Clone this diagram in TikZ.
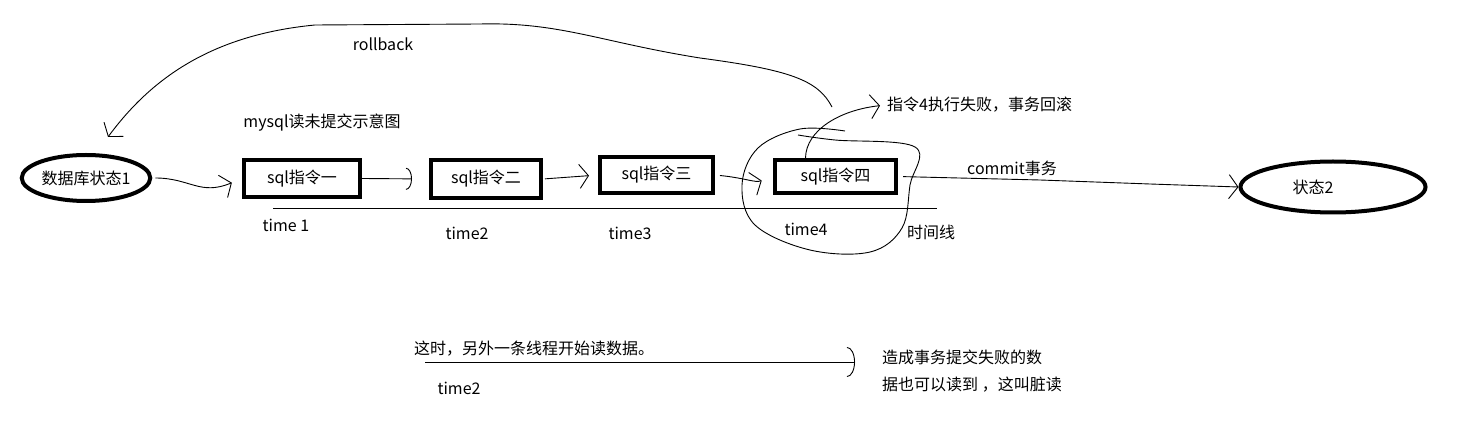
\documentclass[tikz,border=0pt]{standalone}
\usepackage{fontspec}
\newfontfamily\cjk{Noto Sans CJK SC}
\usetikzlibrary{shapes.geometric,arrows.meta}
\begin{document}
\begin{tikzpicture}[x=1pt,y=-1pt,
  txt/.style={font=\cjk\fontsize{16}{19}\selectfont, inner sep=1pt},
  state/.style={ellipse, draw, line width=4pt, inner sep=0pt, txt},
  stepbox/.style={rectangle, draw, line width=4pt, inner sep=0pt, txt},
  thin/.style={line width=0.9pt},
  vtip/.style={thin, -{Straight Barb[length=9pt,width=24pt,line width=0.9pt]}},
  ctip/.style={thin, -{Arc Barb[length=6pt,width=22pt,line width=0.9pt]}},
  bigc/.style={thin, -{Arc Barb[length=8pt,width=30pt,line width=0.9pt]}}
]
\useasboundingbox (0,0) rectangle (1458,435);

% states and steps
\node[state, minimum width=120pt, minimum height=46pt] (e1) at (86,178) {数据库状态1};
\node[stepbox, minimum width=116pt, minimum height=37pt] (b1) at (302,178.5) {sql指令一};
\node[stepbox, minimum width=110pt, minimum height=38pt] (b2) at (486,179) {sql指令二};
\node[stepbox, minimum width=113pt, minimum height=36pt] (b3) at (656.5,175) {sql指令三};
\node[stepbox, minimum width=121pt, minimum height=33pt] (b4) at (835.5,176.5) {sql指令四};
\node[state, minimum width=185pt, minimum height=51pt, text depth=0pt] (e2) at (1333,187) {\hspace*{-40pt}状态2};

% labels
\node[txt] (rb) at (383,44) {rollback};
\node[txt] (title) at (322,123) {mysql读未提交示意图};
\node[txt] (t1) at (286,225) {time 1};
\node[txt] (t2) at (467,233) {time2};
\node[txt] (t3) at (630,233) {time3};
\node[txt] (t4) at (806,229) {time4};
\node[txt] (tl) at (931,232) {时间线};
\node[txt] (cm) at (1012,168) {commit事务};
\node[txt, anchor=west] (fail) at (886,105) {指令4执行失败，事务回滚};
\node[txt, anchor=west] (other) at (413,349) {这时，另外一条线程开始读数据。};
\node[txt] (t2b) at (459,388) {time2};
\node[txt, anchor=north west, align=left, font=\cjk\fontsize{16}{27}\selectfont] (dirty) at (881,349) {造成事务提交失败的数\\据也可以读到 ，这叫脏读};

% timeline
\coordinate (tla) at (273,208);
\coordinate (tlb) at (937,208);
\draw[thin] (tla) -- (tlb);

% step connectors
\draw[vtip, shorten <=3pt, shorten >=11pt] (e1.east) .. controls (190,178) and (200,196) .. (b1.west);
\draw[ctip, shorten >=17pt] (b1.east) -- (b2.west);
\draw[vtip, shorten <=2pt, shorten >=9pt] (b2.east) -- (b3.west);
\draw[vtip, shorten <=5pt, shorten >=12pt] (b3.east) .. controls (745,178) and (755,183) .. (b4.west);

% commit
\draw[vtip, shorten <=5pt] (b4.east) -- (1040,180) -- (1150,184) -- (e2.west);

% loop around step four
\draw[thin] plot[smooth, tension=0.6] coordinates {(798,135) (835,140) (915,147) (910,185) (902,228) (870,252) (810,250) (755,225) (742,185) (758,148) (800,129) (845,131)};

% failure arrow
\draw[vtip, shorten >=6pt] ([xshift=-30pt]b4.north) .. controls (806,130) and (840,110) .. (fail.west);

% rollback
\coordinate (rbs) at (832,107);
\draw[vtip] (rbs) .. controls (818,80) and (790,70) .. (700,58)
  .. controls (600,42) and (560,22) .. (480,24) -- (315,25)
  .. controls (210,35) and (150,80) .. ([xshift=22pt,yshift=16pt]e1.north);

% second thread
\coordinate (th) at (425,362);
\draw[bigc, shorten >=26pt] (th) -- (dirty.west |- th);
\end{tikzpicture}
\end{document}
